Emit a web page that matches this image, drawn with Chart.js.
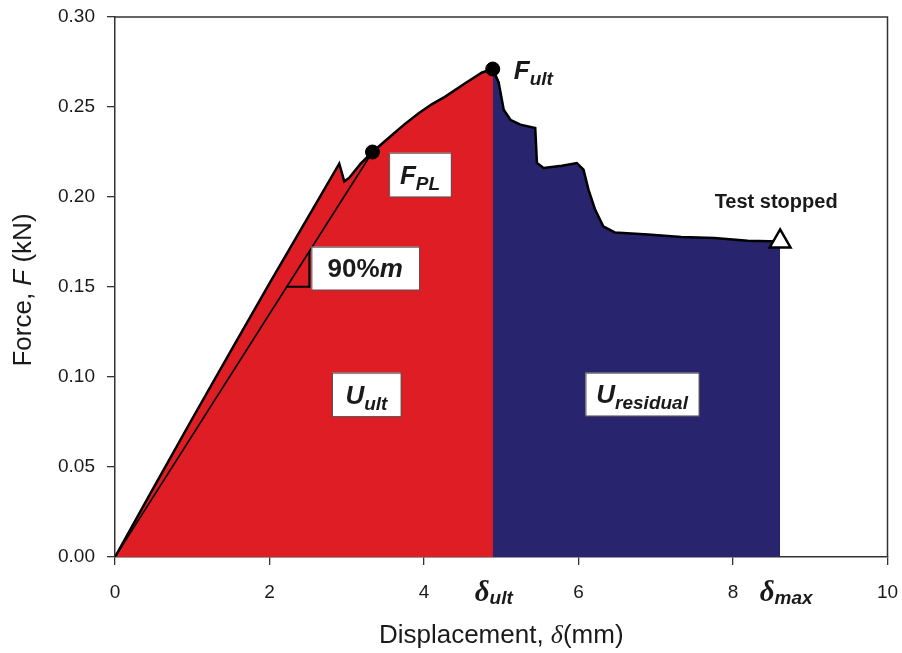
<!DOCTYPE html>
<html>
<head>
<meta charset="utf-8">
<script src="https://cdn.jsdelivr.net/npm/chart.js@4.4.1/dist/chart.umd.min.js"></script>
<style>
  html, body { margin: 0; padding: 0; background: #ffffff; }
  #wrap { width: 902px; height: 653px; }
</style>
</head>
<body>
<div id="wrap"><canvas id="chart" width="902" height="653"></canvas></div>
<script>
// Load–displacement record of the specimen (mm, kN)
const displacement = [0, 0.5, 1.0, 1.5, 2.0, 2.4, 2.7, 2.903, 2.968, 3.03, 3.18, 3.333,
  3.56, 3.75, 3.935, 4.1, 4.28, 4.538, 4.752, 4.89,
  4.968, 5.032, 5.118, 5.247, 5.44, 5.462, 5.548, 5.785, 5.978, 6.065, 6.129, 6.215, 6.32,
  6.47, 6.9, 7.33, 7.76, 8.19, 8.61];
const force = [0, 0.0385, 0.0768, 0.1145, 0.152, 0.1815, 0.2035, 0.2185, 0.2087, 0.2106, 0.2185, 0.225,
  0.2335, 0.2405, 0.2467, 0.2515, 0.2559, 0.2633, 0.2692, 0.2711,
  0.2633, 0.2485, 0.2429, 0.2402, 0.2383, 0.2189, 0.2161, 0.2174, 0.2189, 0.2152, 0.2041, 0.193, 0.1837,
  0.1803, 0.1791, 0.1778, 0.1772, 0.1757, 0.1753];

// Characteristic points
const deltaPL = 3.333, forcePL = 0.225;     // proportional limit
const deltaUlt = 4.89, forceUlt = 0.2711;   // ultimate load
const deltaMax = 8.61, forceMax = 0.1753;   // end of test

// Slope marker on the 90% stiffness line
const slopeMarkX = [2.219, 2.516, 2.516];
const slopeMarkY = [0.1502, 0.1502, 0.1698];

const xTicks = [0, 2, 4, 6, 8, 10];
const yTicks = [0.00, 0.05, 0.10, 0.15, 0.20, 0.25, 0.30];

const RED = '#de1d24';
const NAVY = '#28256e';
const INK = '#1a1a1a';
const AXIS = '#333333';

const pts = (xs, ys) => xs.map((v, i) => ({ x: v, y: ys[i] }));
const curve = pts(displacement, force);
const iUlt = displacement.indexOf(deltaUlt);
// red area runs one sample past the peak so the navy area overlaps it without a seam
const preUlt = curve.slice(0, iUlt + 2);
const postUlt = curve.slice(iUlt);

function rich(ctx, parts, x, y, align) {
  let w = 0;
  parts.forEach(p => { ctx.font = p.font; p.w = ctx.measureText(p.t).width; w += p.w; });
  let cx = align === 'center' ? x - w / 2 : x;
  ctx.textAlign = 'left';
  ctx.textBaseline = 'alphabetic';
  parts.forEach(p => { ctx.font = p.font; ctx.fillText(p.t, cx, y + (p.dy || 0)); cx += p.w; });
}

const BIG = 'bold italic 26px "Liberation Sans", Arial, sans-serif';
const SUB = 'bold italic 19px "Liberation Sans", Arial, sans-serif';

// Boxed labels placed in data units: [x0, x1, yTop, yBottom]
const labelBoxes = [
  { r: [3.548, 4.348, 0.2246, 0.2002], parts: [{ t: 'F', font: BIG }, { t: 'PL', font: SUB, dy: 6 }] },
  { r: [2.542, 3.935, 0.1724, 0.1485], parts: [{ t: '90%', font: 'bold 26px "Liberation Sans", Arial, sans-serif' }, { t: 'm', font: BIG }] },
  { r: [2.809, 3.699, 0.1024, 0.0782], parts: [{ t: 'U', font: BIG }, { t: 'ult', font: SUB, dy: 6 }] },
  { r: [6.090, 7.557, 0.1024, 0.0785], parts: [{ t: 'U', font: BIG }, { t: 'residual', font: SUB, dy: 6 }] }
];

const decorations = {
  id: 'decorations',
  afterDraw(chart) {
    const { ctx, chartArea: a, scales: { x, y } } = chart;
    ctx.save();
    // frame (top and right)
    ctx.strokeStyle = AXIS;
    ctx.lineWidth = 1.5;
    ctx.beginPath();
    ctx.moveTo(a.left, a.top);
    ctx.lineTo(a.right, a.top);
    ctx.lineTo(a.right, a.bottom);
    ctx.stroke();

    // boxed labels
    labelBoxes.forEach(b => {
      const x0 = x.getPixelForValue(b.r[0]), x1 = x.getPixelForValue(b.r[1]);
      const y0 = y.getPixelForValue(b.r[2]), y1 = y.getPixelForValue(b.r[3]);
      ctx.fillStyle = '#ffffff';
      ctx.fillRect(x0, y0, x1 - x0, y1 - y0);
      ctx.strokeStyle = '#555555';
      ctx.lineWidth = 1;
      ctx.strokeRect(x0 + 0.5, y0 + 0.5, x1 - x0, y1 - y0);
      ctx.fillStyle = INK;
      rich(ctx, b.parts, (x0 + x1) / 2, (y0 + y1) / 2 + 9.3, 'center');
    });

    // F_ult label
    ctx.fillStyle = INK;
    rich(ctx, [{ t: 'F', font: BIG }, { t: 'ult', font: SUB, dy: 6 }],
      x.getPixelForValue(deltaUlt) + 21, y.getPixelForValue(forceUlt) + 9.5, 'left');

    // Test stopped
    ctx.font = 'bold 20px "Liberation Sans", Arial, sans-serif';
    ctx.textAlign = 'center';
    ctx.textBaseline = 'alphabetic';
    ctx.fillText('Test stopped', x.getPixelForValue(deltaMax) - 4, y.getPixelForValue(forceMax) - 33);

    // delta markers on the displacement axis
    const DEL = 'bold italic 29px "Liberation Serif", "Times New Roman", serif';
    rich(ctx, [{ t: 'δ', font: DEL }, { t: 'ult', font: SUB, dy: 3 }],
      x.getPixelForValue(deltaUlt) + 1, 601, 'center');
    rich(ctx, [{ t: 'δ', font: DEL }, { t: 'max', font: SUB, dy: 3 }],
      x.getPixelForValue(deltaMax) + 6, 601, 'center');

    // axis titles
    const TF = '26px "Liberation Sans", Arial, sans-serif';
    rich(ctx, [{ t: 'Displacement, ', font: TF }, { t: 'δ', font: 'italic 26px "Liberation Serif", serif' }, { t: '(mm)', font: TF }],
      (a.left + a.right) / 2, 643, 'center');
    ctx.save();
    ctx.translate(31, (a.top + a.bottom) / 2 + 3);
    ctx.rotate(-Math.PI / 2);
    rich(ctx, [{ t: 'Force, ', font: TF }, { t: 'F', font: 'italic 26px "Liberation Sans", Arial, sans-serif' }, { t: ' (kN)', font: TF }], 0, 0, 'center');
    ctx.restore();
    ctx.restore();
  }
};

new Chart(document.getElementById('chart'), {
  type: 'line',
  data: {
    datasets: [
      { data: preUlt, borderColor: '#000', borderWidth: 2.5, backgroundColor: RED, fill: 'origin', pointRadius: 0, tension: 0, order: 6 },
      { data: postUlt, borderColor: '#000', borderWidth: 2.5, backgroundColor: NAVY, fill: 'origin', pointRadius: 0, tension: 0, order: 5 },
      { data: [{ x: 0, y: 0 }, { x: deltaPL, y: forcePL }], borderColor: '#000', borderWidth: 1.6, fill: false, pointRadius: 0, order: 4 },
      { data: pts(slopeMarkX, slopeMarkY), borderColor: '#000', borderWidth: 2, fill: false, pointRadius: 0, order: 3 },
      { data: [{ x: deltaPL, y: forcePL }, { x: deltaUlt, y: forceUlt }], showLine: false, pointRadius: 7, pointBackgroundColor: '#000', pointBorderColor: '#000', order: 1 },
      { data: [{ x: deltaMax, y: forceMax }], showLine: false, pointStyle: 'triangle', pointRadius: 12, pointBackgroundColor: '#fff', pointBorderColor: '#000', pointBorderWidth: 2.5, order: 0 }
    ]
  },
  options: {
    responsive: false,
    devicePixelRatio: 1,
    animation: false,
    events: [],
    layout: { padding: { top: 17, right: 12, left: 0, bottom: 0 } },
    plugins: { legend: { display: false }, tooltip: { enabled: false } },
    scales: {
      x: {
        type: 'linear', min: 0, max: 10,
        afterFit: s => { s.height = 96; s.paddingLeft = 0; s.paddingRight = 0; },
        afterBuildTicks: s => { s.ticks = xTicks.map(v => ({ value: v })); },
        ticks: { color: INK, font: { family: '"Liberation Sans", Arial, sans-serif', size: 19 }, padding: 16, maxRotation: 0, callback: v => String(v) },
        grid: { display: true, drawOnChartArea: false, drawTicks: true, tickLength: 8, color: AXIS, lineWidth: 1.3 },
        border: { display: true, color: AXIS, width: 1.5 }
      },
      y: {
        type: 'linear', min: 0, max: 0.30,
        afterFit: s => { s.width = 115; s.paddingTop = 0; s.paddingBottom = 0; },
        afterBuildTicks: s => { s.ticks = yTicks.map(v => ({ value: v })); },
        ticks: { color: INK, font: { family: '"Liberation Sans", Arial, sans-serif', size: 19 }, padding: 12, callback: v => v.toFixed(2) },
        grid: { display: true, drawOnChartArea: false, drawTicks: true, tickLength: 8, color: AXIS, lineWidth: 1.3 },
        border: { display: true, color: AXIS, width: 1.5 }
      }
    }
  },
  plugins: [decorations]
});
</script>
</body>
</html>
